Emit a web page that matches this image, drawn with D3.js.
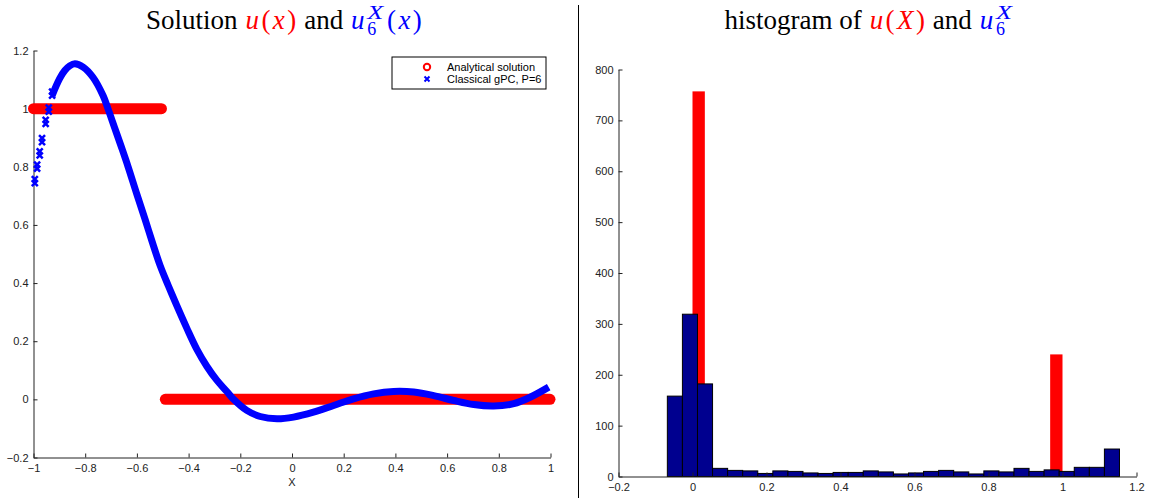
<!DOCTYPE html>
<html>
<head>
<meta charset="utf-8">
<script src="https://cdn.jsdelivr.net/npm/d3@7"></script>
<style>
  body { margin: 0; background: #fff; }
  svg { display: block; }
  .tick text { font-family: "Liberation Sans", Arial, sans-serif; font-size: 11px; fill: #222; }
  .domain, .tick line { stroke: #222; }
</style>
</head>
<body>
<div id="chart"></div>
<script>
//Data

//left panel: analytical solution u(x), a step (x0, x1, value)
let stepX0 = [-1, -0.49],
    stepX1 = [-0.505, 0.998],
    stepU = [1, 0];

//left panel: classical gPC approximation, P=6
let gpcX = [-0.995, -0.986, -0.976, -0.967, -0.953, -0.941, -0.928, -0.899, -0.879, -0.86, -0.84,
            -0.808, -0.77, -0.731, -0.712, -0.686, -0.66, -0.634, -0.6, -0.568, -0.542, -0.51,
            -0.478, -0.446, -0.407, -0.368, -0.329, -0.291, -0.252, -0.226, -0.175, -0.123,
            -0.058, 0.006, 0.083, 0.161, 0.238, 0.316, 0.393, 0.471, 0.548, 0.626, 0.703,
            0.78, 0.858, 0.923, 0.993];
let gpcU = [0.744, 0.794, 0.839, 0.885, 0.948, 0.99, 1.045, 1.103, 1.131, 1.147, 1.154,
            1.143, 1.108, 1.045, 1.0, 0.934, 0.868, 0.8, 0.705, 0.618, 0.545, 0.46,
            0.39, 0.323, 0.245, 0.172, 0.113, 0.066, 0.027, 0.0, -0.038, -0.059,
            -0.067, -0.061, -0.044, -0.021, 0.002, 0.019, 0.027, 0.025, 0.013, -0.004, -0.018,
            -0.023, -0.015, 0.008, 0.042];

//right panel: histogram of u(X), 30 bins on [0,1], only two non-empty
let histUCenters = [1 / 60, 59 / 60],
    histUCounts = [757, 240],
    histUWidth = 1 / 30;

//right panel: histogram of u6(X), 30 bins between its min and max
let histGMin = -0.068, histGMax = 1.154;
let histGCounts = [158, 319, 182, 16, 12, 11, 6, 11, 10, 7, 6, 8, 8, 11, 9,
                   5, 7, 10, 12, 9, 5, 11, 9, 16, 10, 13, 10, 18, 18, 54];

//ticks
let leftXTicks = [-1, -0.8, -0.6, -0.4, -0.2, 0, 0.2, 0.4, 0.6, 0.8, 1],
    leftYTicks = [-0.2, 0, 0.2, 0.4, 0.6, 0.8, 1, 1.2],
    rightXTicks = [-0.2, 0, 0.2, 0.4, 0.6, 0.8, 1, 1.2],
    rightYTicks = [0, 100, 200, 300, 400, 500, 600, 700, 800];

let legendLabels = ["Analytical solution", "Classical gPC, P=6"];

let width = 1150, height = 498;
let red = "#ff0000", blue = "#0000ff", navy = "#00008f";
let fmt = d => String(Math.round(d * 10) / 10).replace("-", "\u2212");

let svg = d3.select("#chart").append("svg")
  .attr("width", width)
  .attr("height", height);

//separator between the two panels
svg.append("line")
  .attr("x1", 578.5).attr("x2", 578.5)
  .attr("y1", 5).attr("y2", height)
  .attr("stroke", "#000").attr("stroke-width", 1);

//Left panel
let xL = d3.scaleLinear().domain([-1, 1]).range([33.5, 550.5]);
let yL = d3.scaleLinear().domain([-0.2, 1.2]).range([457.5, 50.5]);

let left = svg.append("g");

left.append("g")
  .attr("transform", "translate(0," + yL(-0.2) + ")")
  .call(d3.axisBottom(xL).tickValues(leftXTicks).tickFormat(fmt).tickSize(-4).tickPadding(7).tickSizeOuter(0));
left.append("g")
  .attr("transform", "translate(" + xL(-1) + ",0)")
  .call(d3.axisLeft(yL).tickValues(leftYTicks).tickFormat(fmt).tickSize(-4).tickPadding(5).tickSizeOuter(0));

left.append("text")
  .attr("x", 292).attr("y", 486)
  .attr("text-anchor", "middle")
  .style("font-family", "Liberation Sans, Arial, sans-serif")
  .style("font-size", "11px").attr("fill", "#222")
  .text("X");

//analytical solution (dense red circles -> thick round-capped band)
left.selectAll(".step")
  .data(stepU)
  .enter().append("line")
    .attr("class", "step")
    .attr("x1", (d, i) => xL(stepX0[i]))
    .attr("x2", (d, i) => xL(stepX1[i]))
    .attr("y1", d => yL(d))
    .attr("y2", d => yL(d))
    .attr("stroke", red)
    .attr("stroke-width", 11)
    .attr("stroke-linecap", "round");

//gPC approximation: sparse crosses near x=-1, then a dense band
let sparse = gpcX.filter(x => x < -0.92).length;
let gpcLine = d3.line()
  .x((d, i) => xL(gpcX[i + sparse - 1]))
  .y(d => yL(d))
  .curve(d3.curveCatmullRom);
left.append("path")
  .datum(gpcU.slice(sparse - 1))
  .attr("d", gpcLine)
  .attr("fill", "none")
  .attr("stroke", blue)
  .attr("stroke-width", 7)
  .attr("stroke-linejoin", "round");
left.selectAll(".gpcx")
  .data(gpcU.slice(0, sparse))
  .enter().append("path")
    .attr("class", "gpcx")
    .attr("transform", (d, i) => "translate(" + xL(gpcX[i]) + "," + yL(d) + ")")
    .attr("d", "M-3,-3L3,3M3,-3L-3,3M-3,-7L3,-1M3,-7L-3,-1")
    .attr("stroke", blue)
    .attr("stroke-width", 2.5);

//legend
let lg = left.append("g").attr("transform", "translate(392,57)");
svg.append("clipPath").attr("id", "legclip")
  .append("rect").attr("x", 0).attr("y", 0).attr("width", 154).attr("height", 32);
lg.append("rect")
  .attr("width", 154).attr("height", 32)
  .attr("fill", "#fff").attr("stroke", "#000").attr("stroke-width", 1);
let lgi = lg.append("g").attr("clip-path", "url(#legclip)");
lgi.append("circle")
  .attr("cx", 35).attr("cy", 10).attr("r", 3.2)
  .attr("fill", "none").attr("stroke", red).attr("stroke-width", 2);
lgi.append("path")
  .attr("d", "M32.5,19.5L37.5,24.5M37.5,19.5L32.5,24.5")
  .attr("stroke", blue).attr("stroke-width", 2);
lgi.selectAll(".lgtext")
  .data(legendLabels)
  .enter().append("text")
    .attr("class", "lgtext")
    .attr("x", 55)
    .attr("y", (d, i) => 14 + i * 12)
    .style("font-family", "Liberation Sans, Arial, sans-serif")
    .style("font-size", "11px")
    .attr("fill", "#000")
    .text(d => d);

//Right panel
let xR = d3.scaleLinear().domain([-0.2, 1.2]).range([618.5, 1136.5]);
let yR = d3.scaleLinear().domain([0, 800]).range([476.5, 69.5]);

let right = svg.append("g");

let binW = (histGMax - histGMin) / histGCounts.length;

right.selectAll(".hu")
  .data(histUCounts)
  .enter().append("rect")
    .attr("class", "hu")
    .attr("x", (d, i) => xR(histUCenters[i] - histUWidth / 2))
    .attr("width", xR(histUWidth) - xR(0))
    .attr("y", d => yR(d))
    .attr("height", d => yR(0) - yR(d))
    .attr("fill", red);

right.selectAll(".hg")
  .data(histGCounts)
  .enter().append("rect")
    .attr("class", "hg")
    .attr("x", (d, i) => xR(histGMin + i * binW))
    .attr("width", xR(binW) - xR(0))
    .attr("y", d => yR(d))
    .attr("height", d => yR(0) - yR(d))
    .attr("fill", navy)
    .attr("stroke", "#000")
    .attr("stroke-width", 1);

right.append("g")
  .attr("transform", "translate(0," + yR(0) + ")")
  .call(d3.axisBottom(xR).tickValues(rightXTicks).tickFormat(fmt).tickSize(-4).tickPadding(7).tickSizeOuter(0));
right.append("g")
  .attr("transform", "translate(" + xR(-0.2) + ",0)")
  .call(d3.axisLeft(yR).tickValues(rightYTicks).tickFormat(d3.format("d")).tickSize(-4).tickPadding(5).tickSizeOuter(0));

//Titles with math pieces (pre/post = extra spacing, math glyphs are wider in the original)
function mathTitle(cx, base, parts) {
  let g = svg.append("g");
  let x = 0;
  parts.forEach(p => {
    x += p.pre || 0;
    if (p.stack) {
      let w = 0;
      p.stack.forEach(s => {
        let t = g.append("text")
          .attr("x", x).attr("y", base + s.dy)
          .style("font-family", "Liberation Serif, Times New Roman, serif")
          .style("font-size", "18px")
          .style("font-style", s.it ? "italic" : "normal")
          .attr("fill", s.c)
          .text(s.t);
        if (s.len) t.attr("textLength", s.len).attr("lengthAdjust", "spacingAndGlyphs");
        w = Math.max(w, s.len || t.node().getComputedTextLength());
      });
      x += w;
    } else {
      let t = g.append("text")
        .attr("x", x).attr("y", base)
        .style("font-family", "Liberation Serif, Times New Roman, serif")
        .style("font-size", "27px")
        .style("font-style", p.it ? "italic" : "normal")
        .attr("fill", p.c)
        .attr("xml:space", "preserve")
        .text(p.t);
      x += t.node().getComputedTextLength();
    }
    x += p.post || 0;
  });
  g.attr("transform", "translate(" + (cx - x / 2) + ",0)");
}

let m = (t, c, it) => ({t: t, c: c, it: it, pre: 1.2, post: 1.2});
let sub6 = {pre: 1.5, post: 2.5, stack: [{t: "X", c: blue, it: true, dy: -10, len: 16}, {t: "6", c: blue, it: false, dy: 6}]};

mathTitle(284.5, 29, [
  {t: "Solution ", c: "#000"},
  m("u", red, true), m("(", red), m("x", red, true), m(")", red),
  {t: " and ", c: "#000"},
  m("u", blue, true), sub6, m("(", blue), m("x", blue, true), m(")", blue)
]);

mathTitle(869.5, 29, [
  {t: "histogram of ", c: "#000"},
  m("u", red, true), m("(", red), m("X", red, true), m(")", red),
  {t: " and ", c: "#000"},
  m("u", blue, true), sub6
]);
</script>
</body>
</html>
